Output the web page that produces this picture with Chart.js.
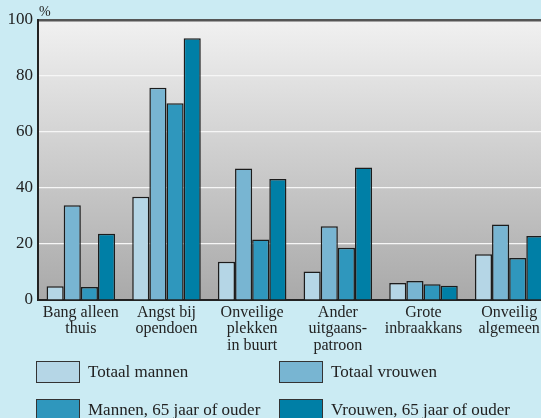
<!DOCTYPE html>
<html>
<head>
<meta charset="utf-8">
<script src="https://cdn.jsdelivr.net/npm/chart.js@4/dist/chart.umd.min.js"></script>
<style>
    html, body { margin: 0; padding: 0; background: #cbebf3; overflow: hidden; }
    #wrap { position: relative; width: 556px; height: 418px; }
    #pct { position: absolute; left: 39px; top: 4px; font: 14px 'Liberation Serif', serif; color: #222; }
    .lg { position: absolute; font: 17px 'Liberation Serif', serif; color: #222; }
    .lg span.box { position: absolute; left: 0; top: 0; width: 42px; height: 20px; border: 1.5px solid #333; }
    .lg span.txt { position: absolute; left: 52px; top: 1px; white-space: nowrap; }
</style>
</head>
<body>
<div id="wrap">
    <canvas id="chart" width="556" height="418"></canvas>
    <div id="pct">%</div>
    <div id="legend"></div>
</div>
<script>
    const categories = [
        ['Bang alleen', 'thuis'],
        ['Angst bij', 'opendoen'],
        ['Onveilige', 'plekken', 'in buurt'],
        ['Ander', 'uitgaans-', 'patroon'],
        ['Grote', 'inbraakkans'],
        ['Onveilig', 'algemeen']
    ];
    const seriesNames = ['Totaal mannen', 'Totaal vrouwen', 'Mannen, 65 jaar of ouder', 'Vrouwen, 65 jaar of ouder'];
    const totaalMannen = [4.9, 36.9, 13.7, 10.2, 6.1, 16.3];
    const totaalVrouwen = [33.8, 75.8, 47.0, 26.3, 6.8, 27.0];
    const mannen65 = [4.6, 70.3, 21.6, 18.7, 5.6, 15.0];
    const vrouwen65 = [23.7, 93.5, 43.2, 47.3, 5.1, 22.9];
    const yTicks = [0, 20, 40, 60, 80, 100];

    const colors = ['#b5d6e6', '#78b5d2', '#2f97bd', '#007fa6'];
    const values = [totaalMannen, totaalVrouwen, mannen65, vrouwen65];

    // achtergrond van het plotgebied: verloop van licht naar grijs
    const plotBg = {
        id: 'plotBg',
        beforeDraw(chart) {
            const { ctx, chartArea: a } = chart;
            const g = ctx.createLinearGradient(0, a.top, 0, a.bottom);
            g.addColorStop(0, '#f1f1f1');
            g.addColorStop(1, '#a9a9a9');
            ctx.save();
            ctx.fillStyle = g;
            ctx.fillRect(a.left, a.top, a.right - a.left, a.bottom - a.top);
            ctx.restore();
        }
    };

    const chart = new Chart(document.getElementById('chart'), {
        type: 'bar',
        data: {
            labels: categories,
            datasets: values.map((v, i) => ({
                label: seriesNames[i],
                data: v,
                backgroundColor: colors[i],
                borderColor: '#1c1c1c',
                borderWidth: 1.5,
                categoryPercentage: 0.8,
                barPercentage: 1.0
            }))
        },
        options: {
            responsive: false,
            animation: false,
            layout: { padding: { top: 20, right: 4, left: 0, bottom: 0 } },
            plugins: {
                legend: { display: false },
                tooltip: { enabled: false }
            },
            scales: {
                x: {
                    grid: { display: false, drawTicks: false },
                    border: { display: true, color: '#222', width: 2 },
                    ticks: {
                        color: '#222',
                        padding: 4,
                        maxRotation: 0,
                        autoSkip: false,
                        font: { family: 'Liberation Serif', size: 16, lineHeight: 1.04 }
                    },
                    afterFit: s => { s.height = 118; }
                },
                y: {
                    min: 0,
                    max: 100,
                    afterBuildTicks: s => { s.ticks = yTicks.map(v => ({ value: v })); },
                    grid: {
                        drawTicks: false,
                        color: c => c.tick.value === 100 ? '#555' : (c.tick.value === 0 ? 'rgba(0,0,0,0)' : '#f6f6f6'),
                        lineWidth: c => c.tick.value === 100 ? 2.5 : 1.2
                    },
                    border: { display: true, color: '#222', width: 2 },
                    ticks: {
                        color: '#222',
                        padding: 5,
                        font: { family: 'Liberation Serif', size: 17 }
                    },
                    afterFit: s => { s.width = 38; }
                }
            }
        },
        plugins: [plotBg]
    });

    // legenda in twee kolommen, opgebouwd uit de datasets
    const legendPos = [[36, 361], [279, 361], [36, 399], [279, 399]];
    const legendEl = document.getElementById('legend');
    chart.data.datasets.forEach((ds, i) => {
        const item = document.createElement('div');
        item.className = 'lg';
        item.style.left = legendPos[i][0] + 'px';
        item.style.top = legendPos[i][1] + 'px';
        item.innerHTML = '<span class="box" style="background:' + ds.backgroundColor + '"></span>' +
            '<span class="txt">' + ds.label + '</span>';
        legendEl.appendChild(item);
    });
</script>
</body>
</html>
